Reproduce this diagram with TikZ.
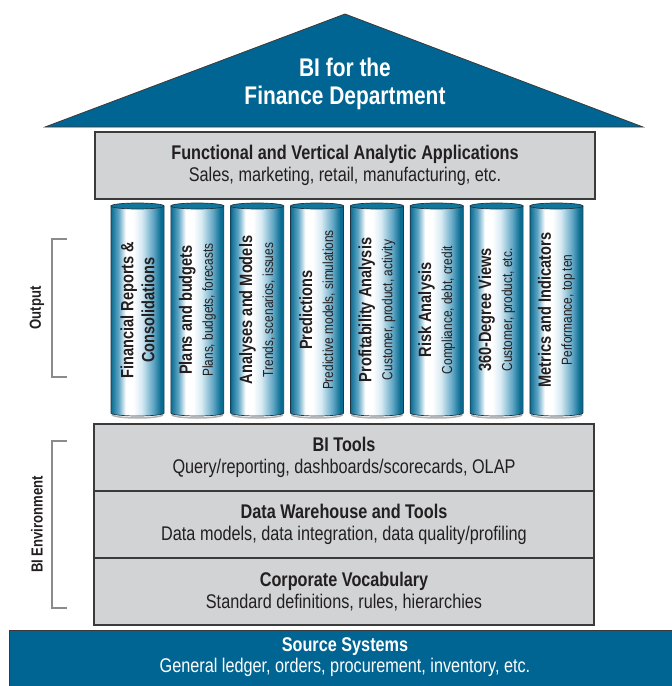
\documentclass[tikz,border=0pt]{standalone}
\usepackage{fontspec}
\setmainfont{Liberation Sans}[FakeStretch=0.82]
\usetikzlibrary{
    positioning % For stacking the layer boxes
}

\definecolor{roofblue}{RGB}{0,101,146}
\definecolor{layergray}{RGB}{209,211,212}
\definecolor{edgegray}{RGB}{58,58,58}
\definecolor{bracegray}{RGB}{139,139,139}
\definecolor{inkdark}{RGB}{35,31,32}
\definecolor{pilldark}{RGB}{10,108,145}
\definecolor{pillmid}{RGB}{95,165,196}
\definecolor{pilllight}{RGB}{214,234,243}
\definecolor{capblue}{RGB}{16,118,156}
\definecolor{pilledge}{RGB}{30,55,68}

% Shading for the pillars (middle 50bp spans the pillar)
\pgfdeclarehorizontalshading{pillshade}{100bp}{color(0bp)=(pilldark); color(25bp)=(pilldark); color(32bp)=(pillmid); color(39bp)=(white); color(46bp)=(white); color(54bp)=(pilllight); color(65bp)=(pillmid); color(72bp)=(pilldark); color(100bp)=(pilldark)}

\newcommand{\pillhead}[1]{{\fontsize{17.8}{21}\selectfont\bfseries #1}}

\begin{document}
\begin{tikzpicture}[
    x=1pt, y=-1pt, % Work in pixels, top down
    layer/.style={draw=edgegray, line width=1.2pt, fill=layergray, text=inkdark,
        minimum width=500pt, minimum height=67pt, inner sep=0pt, outer sep=0pt,
        align=center, font=\fontsize{19.8}{22}\selectfont}, % Gray layer boxes
    roof/.style={fill=roofblue, draw=edgegray, line width=0.8pt, line join=miter},
    pillbody/.style={shading=pillshade, draw=pilledge, line width=0.7pt},
    pillcap/.style={fill=capblue, draw=pilledge, line width=0.7pt},
    pillshadow/.style={draw=black!30, line width=1.5pt},
    pilltext/.style={rotate=90, align=center, text=inkdark,
        font=\fontsize{14.5}{21}\selectfont},
    brace/.style={draw=bracegray, line width=2.2pt},
    sidelabel/.style={rotate=90, text=inkdark, font=\fontsize{16}{18}\selectfont\bfseries}
]

    \useasboundingbox (0,0) rectangle (672,686);

    % Roof
    \draw[roof] (45,127) -- (345,14) -- (643,127) -- cycle;
    \node[text=white, align=center, font=\fontsize{25.5}{28}\selectfont\bfseries] (title) at (345,84)
        {BI for the\\Finance Department};

    % Applications beam
    \node[layer] (apps) at (345,165.5)
        {\textbf{Functional and Vertical Analytic Applications}\\Sales, marketing, retail, manufacturing, etc.};

    % Pillars
    \foreach \ttl/\sub [count=\i] in {
        {Financial Reports \&}/{\pillhead{Consolidations}},
        {Plans and budgets}/{Plans, budgets, forecasts},
        {Analyses and Models}/{Trends, scenarios, issues},
        {Predictions}/{Predictive models, simulations},
        {Profitability Analysis}/{Customer, product, activity},
        {Risk Analysis}/{Compliance, debt, credit},
        {360-Degree Views}/{Customer, product, etc.},
        {Metrics and Indicators}/{Performance, top ten}}{
        \pgfmathsetmacro\xl{111+(\i-1)*59.85}
        \pgfmathsetmacro\xc{\xl+26.5}
        \draw[pillshadow] (\xl+1,414.5) arc[start angle=180, end angle=0, x radius=25.5, y radius=3.5];
        \draw[pillbody] (\xl,206) -- (\xl,413) arc[start angle=180, end angle=0, x radius=26.5, y radius=3]
            -- (\xl+53,206) -- cycle;
        \draw[pillcap] (\xc,206) ellipse[x radius=26.5, y radius=3];
        \node[pilltext] (col\i) at (\xc,310) {\pillhead{\ttl}\\\sub};
    }

    % Foundation layers
    \node[layer] (tools) at (344,457.5)
        {\textbf{BI Tools}\\Query/reporting, dashboards/scorecards, OLAP};
    \node[layer, below=0pt of tools] (dwh)
        {\textbf{Data Warehouse and Tools}\\Data models, data integration, data quality/profiling};
    \node[layer, below=0pt of dwh] (vocab)
        {\textbf{Corporate Vocabulary}\\Standard definitions, rules, hierarchies};

    % Source systems
    \draw[roof] (9,630) rectangle (690,700);
    \node[text=white, align=center, font=\fontsize{19.8}{21}\selectfont] (src) at (345,657.5)
        {\textbf{Source Systems}\\General ledger, orders, procurement, inventory, etc.};

    % Side brackets
    \draw[brace] (67,239) -- (52,239) -- (52,377) -- (67,377);
    \node[sidelabel] (outlbl) at (37,308) {Output};
    \draw[brace] (67,441) -- (52,441) -- (52,608) -- (67,608);
    \node[sidelabel] (envlbl) at (37,524.5) {BI Environment};

\end{tikzpicture}
\end{document}
